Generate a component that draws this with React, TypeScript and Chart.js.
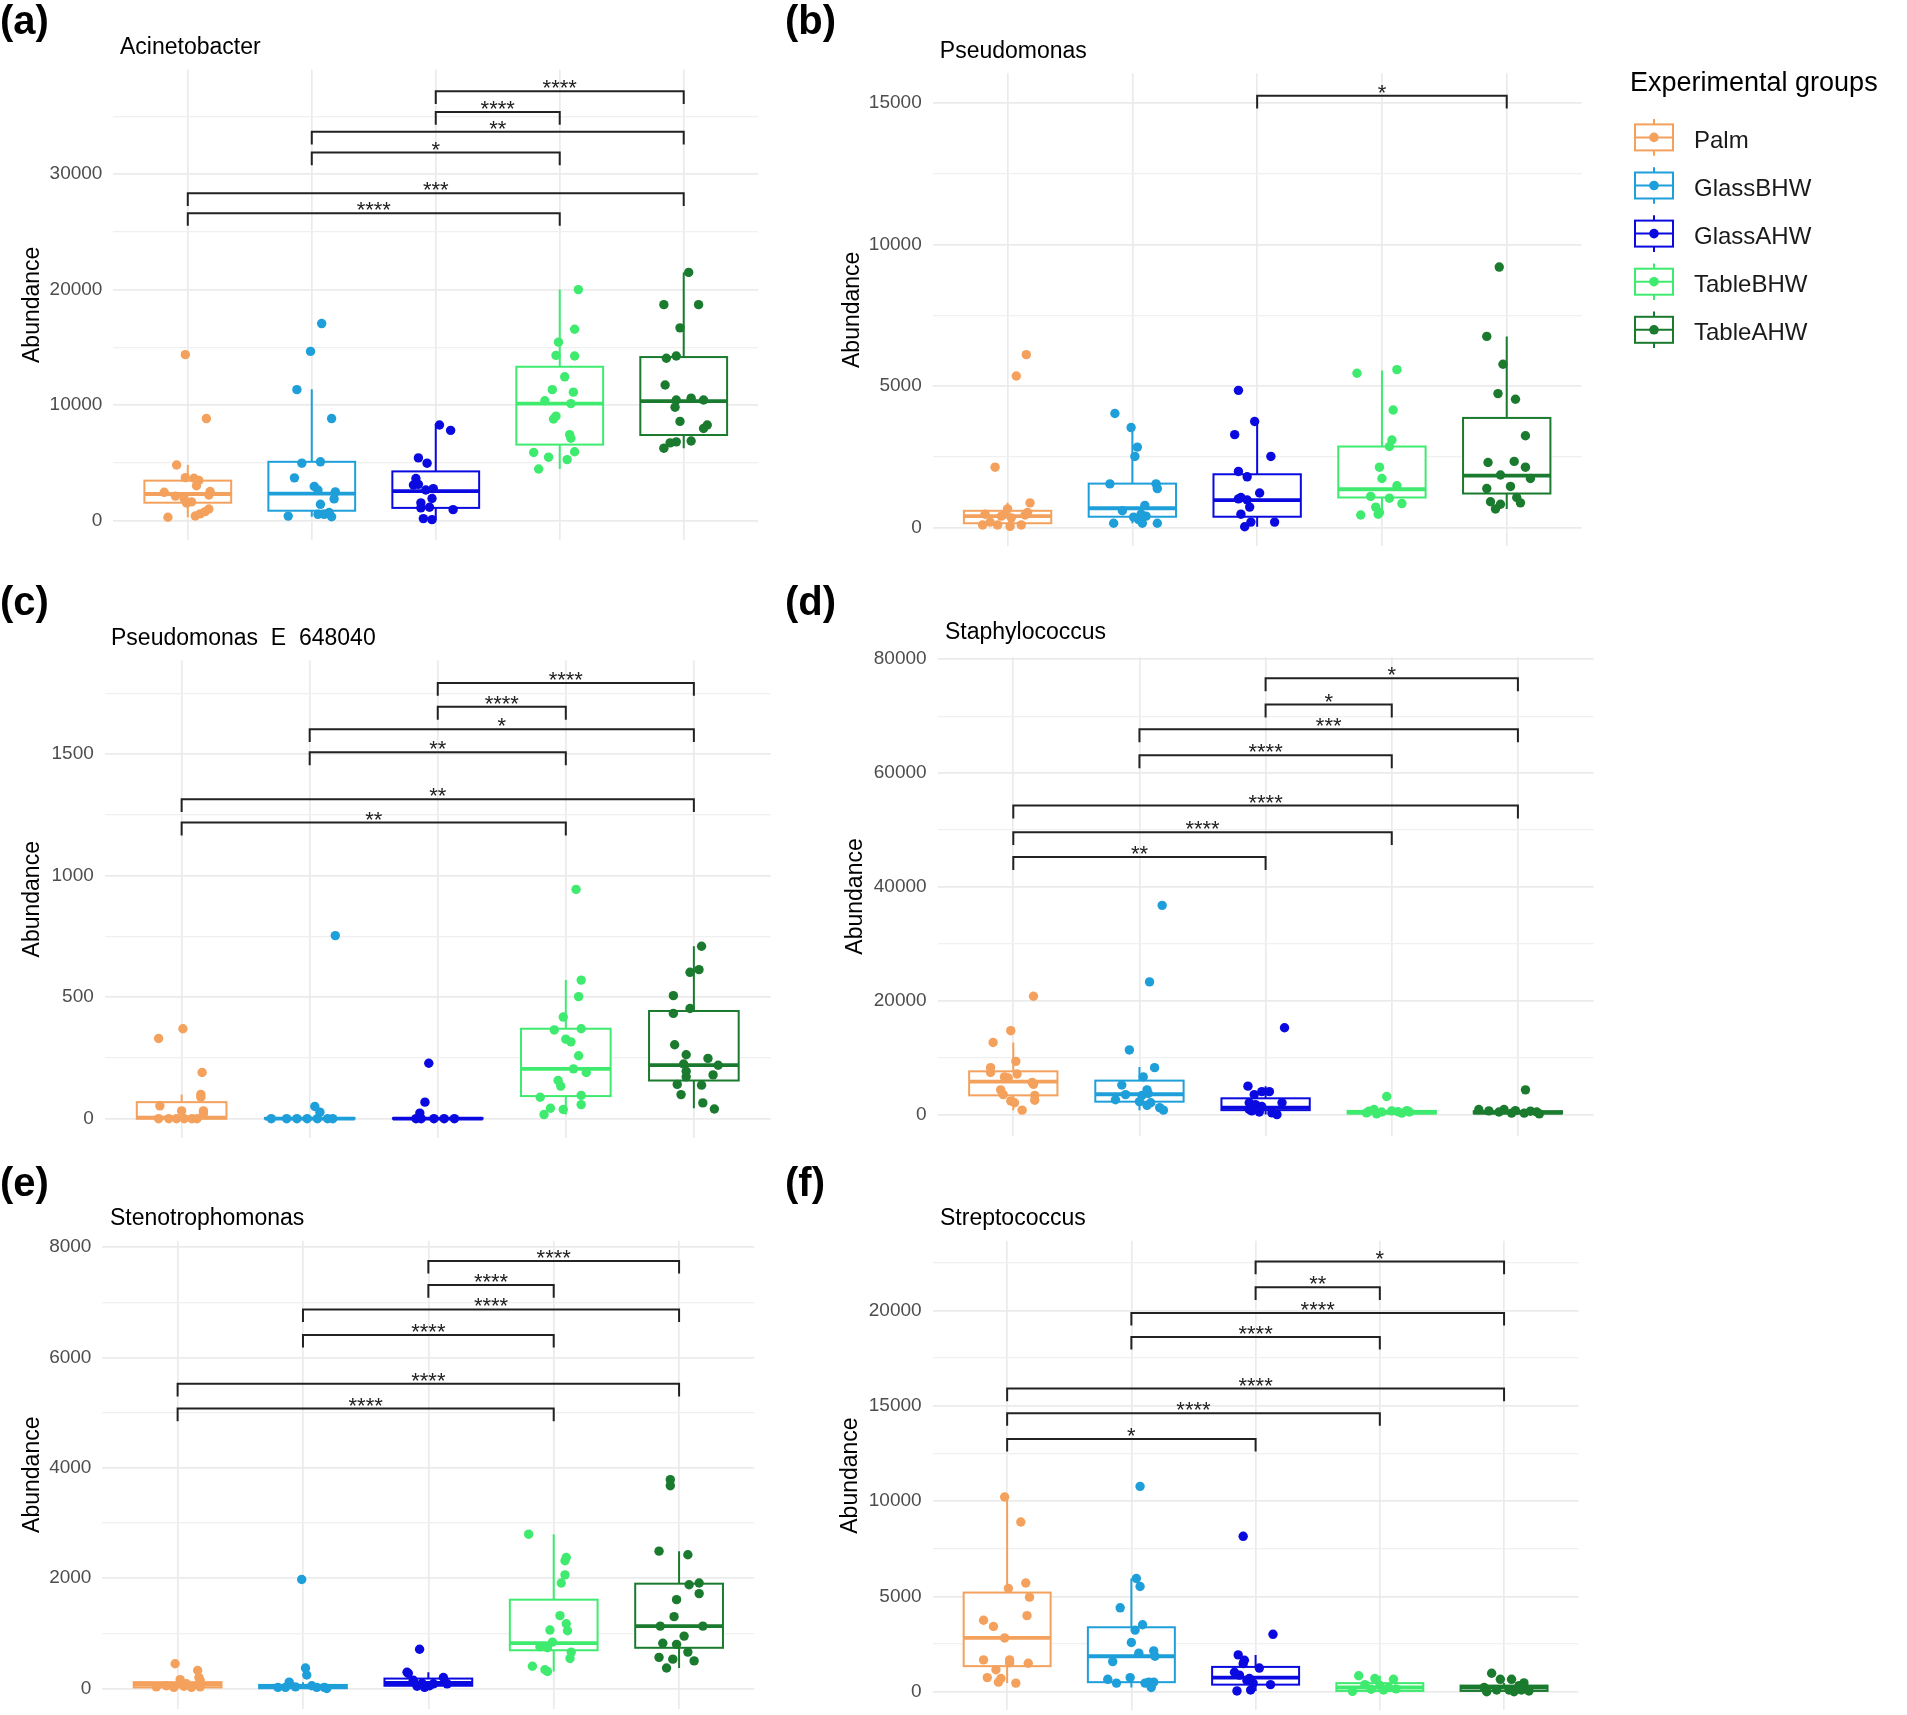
import React, { useEffect, useRef } from 'react';
import { Chart, registerables } from 'chart.js';

Chart.register(...registerables);

const FONT = '"Liberation Sans", Arial, sans-serif';
Chart.defaults.font.family = FONT;

// ---------------- data ----------------
const GROUPS = ['Palm', 'GlassBHW', 'GlassAHW', 'TableBHW', 'TableAHW'];
const GROUP_COLORS = ['#F4A15D', '#1F9FDA', '#0A0AE0', '#3EEB6F', '#1A7A2E'];

type Pt = [number, number]; // [jitter offset in category units, abundance]
type Box = [number, number, number, number, number]; // whisker low, q1, median, q3, whisker high
type Br = [number, number, number, string]; // from group, to group, bracket height, label

// (a) Acinetobacter
const acPalm: Pt[] = [[-0.02, 14350], [0.15, 8815], [-0.09, 4790], [-0.02, 3700], [0.05, 3650], [0.09, 3450], [0.07, 3000], [-0.19, 2430], [-0.1, 2100], [-0.03, 1900], [0.03, 1600], [-0.01, 1510], [0.18, 2500], [0.17, 2200], [-0.16, 270], [0.06, 380], [0.1, 560], [0.14, 760], [0.17, 980]];
const acGlassB: Pt[] = [[0.08, 17040], [-0.01, 14630], [-0.12, 11320], [0.16, 8815], [-0.08, 4950], [0.07, 5070], [-0.14, 3680], [0.02, 2940], [0.05, 2630], [0.19, 2470], [0.18, 1860], [0.07, 1390], [-0.19, 370], [0.05, 525], [0.1, 525], [0.16, 310], [0.14, 680]];
const acGlassA: Pt[] = [[0.03, 8260], [0.12, 7790], [-0.14, 5410], [-0.07, 4950], [-0.16, 3620], [-0.14, 3120], [-0.18, 3060], [-0.02, 2750], [-0.08, 2630], [-0.03, 1890], [-0.12, 1515], [-0.05, 1140], [0.14, 930], [-0.12, 1080], [-0.1, 155], [-0.03, 60]];
const acTableB: Pt[] = [[0.15, 19980], [0.12, 16550], [-0.01, 15430], [-0.03, 14290], [0.12, 14230], [0.04, 12430], [-0.06, 11320], [0.11, 11100], [-0.12, 10360], [0.09, 10110], [-0.03, 9030], [-0.05, 8780], [0.08, 7420], [0.09, 7110], [-0.21, 5880], [-0.09, 5470], [0.12, 5940], [0.06, 5260], [-0.17, 4450]];
const acTableA: Pt[] = [[0.04, 21470], [-0.16, 18680], [0.12, 18680], [-0.03, 16670], [-0.14, 14040], [-0.06, 14230], [-0.15, 11720], [-0.06, 10420], [0.06, 10580], [0.16, 10420], [-0.07, 9800], [-0.03, 8570], [0.19, 8260], [0.16, 7950], [0.06, 6870], [-0.06, 6800], [-0.11, 6710], [-0.16, 6250]];
const acBoxes: Box[] = [[270, 1530, 2285, 3440, 4800], [310, 835, 2320, 5070, 11350], [60, 1080, 2540, 4240, 8350], [4450, 6560, 10110, 13300, 19980], [6250, 7390, 10330, 14140, 21470]];
const acBrackets: Br[] = [[3, 5, 37150, '****'], [3, 4, 35350, '****'], [2, 5, 33650, '**'], [2, 4, 31850, '*'], [1, 5, 28330, '***'], [1, 4, 26600, '****']];

// (b) Pseudomonas
const psPalm: Pt[] = [[0.15, 6105], [0.07, 5350], [-0.1, 2130], [0.18, 870], [0, 655], [-0.18, 470], [-0.05, 400], [0.03, 340], [0.14, 440], [-0.2, 90], [-0.14, 190], [-0.08, 90], [0.02, 40], [0.11, 90], [-0.02, 470], [0.16, 530]];
const psGlassB: Pt[] = [[-0.14, 4025], [-0.01, 3530], [0.04, 2840], [0.02, 2510], [-0.18, 1540], [0.19, 1540], [0.2, 1375], [-0.08, 590], [0.1, 780], [0.07, 470], [0.01, 365], [0.11, 400], [0.08, 150], [-0.15, 150], [0.2, 150], [0.05, 280]];
const psGlassA: Pt[] = [[-0.15, 4845], [-0.02, 3745], [-0.18, 3280], [0.11, 2510], [-0.15, 1980], [-0.08, 1790], [-0.13, 1060], [0.02, 1220], [-0.08, 970], [-0.15, 1010], [-0.06, 720], [-0.13, 470], [-0.05, 190], [0.14, 190], [-0.1, 25]];
const psTableB: Pt[] = [[0.12, 5575], [-0.2, 5450], [0.09, 4150], [0.08, 3090], [0.06, 2860], [-0.02, 2130], [0, 1730], [0.12, 1475], [-0.09, 1100], [0.06, 1035], [0.16, 845], [-0.05, 720], [-0.02, 530], [-0.17, 440], [-0.03, 470]];
const psTableA: Pt[] = [[-0.06, 9200], [-0.16, 6750], [-0.03, 5765], [-0.07, 4730], [0.07, 4530], [0.15, 3240], [-0.15, 2295], [0.06, 2335], [0.15, 2130], [-0.05, 1855], [0.19, 1730], [-0.16, 1375], [0.03, 1450], [0.08, 1060], [-0.13, 910], [0.11, 870], [-0.05, 820], [-0.09, 655]];
const psBoxes: Box[] = [[40, 150, 400, 590, 870], [150, 380, 680, 1550, 3530], [25, 380, 970, 1880, 3745], [440, 1060, 1350, 2860, 5550], [655, 1200, 1830, 3870, 6750]];
const psBrackets: Br[] = [[3, 5, 15250, '*']];

// (c) Pseudomonas E 648040
const pePalm: Pt[] = [[0.01, 370], [-0.18, 330], [0.16, 190], [0.15, 100], [0.15, 88], [-0.17, 53], [0, 32], [0.17, 32], [0.17, 20], [-0.18, 0], [-0.1, 0], [-0.04, 0], [0.02, 0], [0.08, 0], [0.12, 0]];
const peGlassB: Pt[] = [[0.2, 753], [0.04, 50], [0.08, 27], [-0.3, 0], [-0.18, 0], [-0.1, 0], [-0.02, 0], [0.06, 0], [0.14, 0], [0.18, 0]];
const peGlassA: Pt[] = [[-0.07, 228], [-0.1, 68], [-0.14, 23], [-0.17, 0], [-0.13, 0], [-0.03, 0], [0.05, 0], [0.13, 0]];
const peTableB: Pt[] = [[0.08, 943], [0.12, 570], [0.1, 502], [-0.02, 418], [-0.09, 365], [0.12, 370], [0, 327], [0.04, 316], [0.1, 259], [0.06, 205], [0.16, 190], [-0.06, 157], [-0.04, 134], [-0.2, 88], [0.12, 96], [0.12, 58], [-0.12, 43], [-0.02, 38], [-0.17, 17]];
const peTableA: Pt[] = [[0.06, 709], [0.04, 613], [-0.03, 602], [-0.16, 506], [-0.03, 453], [-0.16, 433], [-0.15, 304], [-0.06, 263], [0.11, 248], [0.19, 220], [-0.08, 225], [-0.06, 195], [-0.06, 172], [0.15, 180], [-0.13, 141], [0.06, 138], [-0.1, 99], [0.07, 65], [0.16, 40]];
const peBoxes: Box[] = [[0, 0, 4, 68, 99], [0, 0, 0, 3, 8], [0, 0, 0, 2, 5], [17, 93, 205, 370, 570], [43, 157, 220, 443, 709]];
const peBrackets: Br[] = [[3, 5, 1792, '****'], [3, 4, 1694, '****'], [2, 5, 1602, '*'], [2, 4, 1507, '**'], [1, 5, 1314, '**'], [1, 4, 1218, '**']];

// (d) Staphylococcus
const stPalm: Pt[] = [[0.16, 20780], [-0.02, 14740], [-0.16, 12660], [0.02, 9350], [-0.18, 8250], [-0.18, 7400], [0.03, 7140], [-0.07, 6620], [-0.04, 6430], [0.15, 5650], [0.16, 5320], [-0.1, 4350], [-0.08, 3510], [0.17, 3380], [0.17, 2530], [-0.02, 2400], [0.01, 2080], [0.07, 780]];
const stGlassB: Pt[] = [[0.18, 36760], [0.08, 23310], [-0.08, 11360], [0.12, 8250], [0.03, 6620], [-0.14, 5200], [-0.11, 3510], [0.06, 4350], [0.07, 3700], [0.02, 3380], [-0.19, 2600], [0, 2270], [0.09, 2080], [0.06, 1620], [0.16, 1230], [0.19, 780]];
const stGlassA: Pt[] = [[0.15, 15260], [-0.14, 5000], [-0.03, 4030], [0.03, 4030], [-0.09, 3510], [0.13, 2080], [-0.13, 2080], [-0.08, 1750], [-0.07, 1100], [-0.03, 1430], [-0.13, 900], [-0.05, 450], [-0.11, 650], [0.09, 0], [0.05, 300]];
const stTableB: Pt[] = [[-0.04, 3180], [-0.2, 300], [-0.14, 900], [-0.08, 450], [0, 650], [0.08, 260], [0.14, 450], [-0.12, 130], [0.05, 500], [0.12, 700], [-0.18, 600]];
const stTableA: Pt[] = [[0.06, 4350], [-0.31, 900], [-0.23, 650], [-0.15, 450], [-0.05, 260], [0.05, 260], [0.15, 450], [0.17, 130], [-0.11, 900], [0.1, 600], [-0.02, 700]];
const stBoxes: Box[] = [[780, 3380, 5780, 7600, 12660], [780, 2270, 3570, 5970, 8380], [0, 780, 1230, 2860, 5000], [100, 200, 330, 650, 1000], [100, 200, 330, 600, 1000]];
const stBrackets: Br[] = [[3, 5, 76630, '*'], [3, 4, 72020, '*'], [2, 5, 67670, '***'], [2, 4, 63120, '****'], [1, 5, 54290, '****'], [1, 4, 49610, '****'], [1, 3, 45260, '**']];

// (e) Stenotrophomonas
const snPalm: Pt[] = [[-0.02, 449], [0.16, 327], [0.02, 160], [0.17, 200], [0.18, 150], [-0.17, 30], [-0.09, 50], [-0.03, 20], [0.05, 40], [0.11, 20], [0.18, 30], [0.07, 85]];
const snGlassB: Pt[] = [[-0.01, 1976], [0.02, 372], [0.03, 244], [-0.11, 115], [-0.2, 20], [-0.14, 20], [-0.06, 30], [0.07, 50], [0.11, 20], [0.17, 20], [0.19, 0]];
const snGlassA: Pt[] = [[-0.07, 712], [-0.17, 295], [-0.16, 275], [0.12, 200], [0.15, 85], [-0.12, 150], [-0.05, 95], [0.01, 50], [0.04, 85], [-0.09, 40], [-0.03, 20]];
const snTableB: Pt[] = [[-0.2, 2797], [0.1, 2374], [0.09, 2316], [0.09, 2060], [0.06, 1912], [0.05, 1321], [0.1, 1174], [0.11, 1046], [-0.03, 1059], [-0.01, 840], [-0.11, 757], [-0.05, 738], [0.14, 660], [0.13, 545], [-0.17, 404], [-0.07, 340], [-0.05, 308]];
const snTableA: Pt[] = [[-0.07, 3785], [-0.07, 3676], [-0.16, 2489], [0.07, 2425], [0.08, 1880], [0.16, 1912], [0.16, 1720], [-0.02, 1610], [-0.04, 1302], [-0.15, 1130], [0.19, 1130], [0.04, 950], [-0.13, 821], [-0.02, 800], [0.07, 660], [-0.16, 565], [-0.05, 532], [0.12, 500], [-0.1, 372]];
const snBoxes: Box[] = [[0, 20, 70, 115, 200], [0, 5, 40, 65, 115], [20, 50, 100, 180, 295], [308, 693, 821, 1610, 2797], [372, 738, 1130, 1900, 2489]];
const snBrackets: Br[] = [[3, 5, 7750, '****'], [3, 4, 7313, '****'], [2, 5, 6870, '****'], [2, 4, 6409, '****'], [1, 5, 5523, '****'], [1, 4, 5074, '****']];

// (f) Streptococcus
const spPalm: Pt[] = [[-0.02, 10210], [0.11, 8900], [0.15, 5700], [0.01, 5420], [0.18, 4960], [0.16, 3990], [-0.19, 3750], [-0.11, 3420], [-0.02, 2820], [-0.19, 1670], [0.02, 1670], [0.02, 1520], [0.17, 1490], [-0.09, 1150], [-0.16, 740], [-0.05, 690], [-0.07, 500], [0.07, 450]];
const spGlassB: Pt[] = [[0.07, 10770], [0.04, 5940], [0.07, 5520], [-0.09, 4400], [0.09, 3510], [0.03, 3230], [0, 2580], [0.06, 2020], [0.18, 2140], [0.19, 1860], [-0.15, 1580], [-0.19, 650], [-0.12, 450], [-0.01, 740], [0.14, 500], [0.16, 220], [0.11, 450], [0.18, 500]];
const spGlassA: Pt[] = [[-0.1, 8150], [0.14, 3010], [-0.14, 1930], [-0.09, 1650], [-0.1, 1470], [0.03, 1240], [-0.17, 1020], [-0.13, 870], [-0.05, 690], [-0.02, 450], [-0.07, 590], [0.12, 370], [-0.15, 40], [-0.04, 90]];
const spTableB: Pt[] = [[-0.17, 835], [-0.04, 690], [0.11, 650], [-0.12, 370], [0, 330], [0.07, 220], [0.13, 150], [-0.22, 20], [-0.07, 130], [0.03, 90]];
const spTableA: Pt[] = [[-0.1, 970], [-0.03, 650], [0.06, 650], [0.16, 460], [0.12, 320], [-0.16, 220], [-0.06, 90], [0.04, 90], [0.14, 90], [-0.14, 0], [0.08, 0], [0.2, 40]];
const spBoxes: Box[] = [[450, 1340, 2820, 5200, 10210], [220, 500, 1860, 3380, 5940], [40, 370, 740, 1300, 1930], [0, 40, 220, 450, 835], [0, 40, 220, 320, 460]];
const spBrackets: Br[] = [[3, 5, 22560, '*'], [3, 4, 21210, '**'], [2, 5, 19870, '****'], [2, 4, 18610, '****'], [1, 5, 15900, '****'], [1, 4, 14610, '****'], [1, 3, 13260, '*']];

// ---------------- panels (layout in page pixels) ----------------
interface Rect { left: number; top: number; width: number; height: number }
interface Area { left: number; right: number; top: number; bottom: number }
interface PanelSpec {
  letter: string;
  title: string;
  points: Pt[][];
  boxes: Box[];
  brackets: Br[];
  yMin: number; yMax: number; major: number; minor: number;
  canvas: Rect; area: Area;
  titleX: number; titleBase: number; letterBase: number; yTitleX: number;
  legend?: boolean;
}

const COL1 = 0, COL1W = 785, COL2 = 785, COL2W = 1122;
const ROW1 = 0, ROW1H = 570, ROW2 = 570, ROW2H = 590, ROW3 = 1160, ROW3H = 555;

const PANELS: PanelSpec[] = [
  {
    letter: 'a', title: 'Acinetobacter', points: [acPalm, acGlassB, acGlassA, acTableB, acTableA], boxes: acBoxes, brackets: acBrackets,
    yMin: -1700, yMax: 39030, major: 10000, minor: 5000,
    canvas: { left: COL1, top: ROW1, width: COL1W, height: ROW1H }, area: { left: 113.4, right: 758.1, top: 69.6, bottom: 540 },
    titleX: 120, titleBase: 54, letterBase: 33.5, yTitleX: 33,
  },
  {
    letter: 'b', title: 'Pseudomonas', points: [psPalm, psGlassB, psGlassA, psTableB, psTableA], boxes: psBoxes, brackets: psBrackets,
    yMin: -668, yMax: 16048, major: 5000, minor: 2500,
    canvas: { left: COL2, top: ROW1, width: COL2W, height: ROW1H }, area: { left: 932.7, right: 1581.6, top: 73.2, bottom: 546.4 },
    titleX: 939.8, titleBase: 58, letterBase: 33.5, yTitleX: 853, legend: true,
  },
  {
    letter: 'c', title: 'Pseudomonas  E  648040', points: [pePalm, peGlassB, peGlassA, peTableB, peTableA], boxes: peBoxes, brackets: peBrackets,
    yMin: -79, yMax: 1884, major: 500, minor: 250,
    canvas: { left: COL1, top: ROW2, width: COL1W, height: ROW2H }, area: { left: 104.8, right: 770.7, top: 660.6, bottom: 1137.9 },
    titleX: 111, titleBase: 645, letterBase: 615.2, yTitleX: 33,
  },
  {
    letter: 'd', title: 'Staphylococcus', points: [stPalm, stGlassB, stGlassA, stTableB, stTableA], boxes: stBoxes, brackets: stBrackets,
    yMin: -3760, yMax: 80400, major: 20000, minor: 10000,
    canvas: { left: COL2, top: ROW2, width: COL2W, height: ROW2H }, area: { left: 937.6, right: 1593.6, top: 656.9, bottom: 1136 },
    titleX: 945, titleBase: 639.4, letterBase: 615.2, yTitleX: 856,
  },
  {
    letter: 'e', title: 'Stenotrophomonas', points: [snPalm, snGlassB, snGlassA, snTableB, snTableA], boxes: snBoxes, brackets: snBrackets,
    yMin: -366, yMax: 8116, major: 2000, minor: 1000,
    canvas: { left: COL1, top: ROW3, width: COL1W, height: ROW3H }, area: { left: 102.4, right: 754.3, top: 1240.7, bottom: 1708.7 },
    titleX: 110, titleBase: 1224.6, letterBase: 1195.6, yTitleX: 33,
  },
  {
    letter: 'f', title: 'Streptococcus', points: [spPalm, spGlassB, spGlassA, spTableB, spTableA], boxes: spBoxes, brackets: spBrackets,
    yMin: -981, yMax: 23656, major: 5000, minor: 2500,
    canvas: { left: COL2, top: ROW3, width: COL2W, height: ROW3H }, area: { left: 932.6, right: 1578.6, top: 1240.7, bottom: 1710.4 },
    titleX: 940, titleBase: 1224.6, letterBase: 1195.6, yTitleX: 851,
  },
];

const BOX_HALF = 0.35;
const TIP_FRAC = 0.027;

function makeConfig(p: PanelSpec): any {
  const c = p.canvas, a = p.area;
  const datasets = p.points.map((pts, g) => ({
    label: GROUPS[g],
    data: pts.map(([o, v]) => ({ x: g + 1 + o, y: v })),
    backgroundColor: GROUP_COLORS[g],
    borderWidth: 0,
    pointRadius: 4.7,
    pointHoverRadius: 4.7,
  }));

  const boxPlugin = {
    id: 'boxes',
    beforeDatasetsDraw(chart: any) {
      const { ctx, scales: { x, y } } = chart;
      p.boxes.forEach((b, g) => {
        const col = GROUP_COLORS[g];
        const xc = x.getPixelForValue(g + 1);
        const xl = x.getPixelForValue(g + 1 - BOX_HALF);
        const xr = x.getPixelForValue(g + 1 + BOX_HALF);
        const [lo, q1, med, q3, hi] = b.map((v) => y.getPixelForValue(v));
        ctx.save();
        ctx.strokeStyle = col;
        ctx.lineWidth = 2;
        ctx.beginPath();
        ctx.moveTo(xc, hi); ctx.lineTo(xc, q3);
        ctx.moveTo(xc, q1); ctx.lineTo(xc, lo);
        ctx.stroke();
        ctx.fillStyle = '#ffffff';
        ctx.fillRect(xl, q3, xr - xl, q1 - q3);
        ctx.strokeRect(xl, q3, xr - xl, q1 - q3);
        ctx.lineWidth = 3.8;
        ctx.beginPath();
        ctx.moveTo(xl, med); ctx.lineTo(xr, med);
        ctx.stroke();
        ctx.restore();
      });
    },
  };

  const annotPlugin = {
    id: 'annot',
    afterDatasetsDraw(chart: any) {
      const { ctx, scales: { x, y }, chartArea } = chart;
      const tip = TIP_FRAC * (chartArea.bottom - chartArea.top);
      ctx.save();
      ctx.strokeStyle = '#222222';
      ctx.fillStyle = '#222222';
      ctx.lineWidth = 2;
      ctx.font = `22px ${FONT}`;
      ctx.textAlign = 'center';
      ctx.textBaseline = 'alphabetic';
      p.brackets.forEach(([i, j, v, label]) => {
        const yy = y.getPixelForValue(v);
        const x1 = x.getPixelForValue(i);
        const x2 = x.getPixelForValue(j);
        ctx.beginPath();
        ctx.moveTo(x1, yy + tip); ctx.lineTo(x1, yy); ctx.lineTo(x2, yy); ctx.lineTo(x2, yy + tip);
        ctx.stroke();
        ctx.fillText(label, (x1 + x2) / 2, yy + 4);
      });
      ctx.restore();
    },
    afterDraw(chart: any) {
      const { ctx } = chart;
      ctx.save();
      // panel letter
      ctx.fillStyle = '#000000';
      ctx.textAlign = 'left';
      ctx.textBaseline = 'alphabetic';
      ctx.font = `bold 40px ${FONT}`;
      ctx.fillText(`(${p.letter})`, 0, p.letterBase - c.top);
      // title
      ctx.font = `23px ${FONT}`;
      ctx.fillText(p.title, p.titleX - c.left, p.titleBase - c.top);
      // y axis title
      ctx.save();
      ctx.translate(p.yTitleX - c.left, (a.top + a.bottom) / 2 - c.top);
      ctx.rotate(-Math.PI / 2);
      ctx.textAlign = 'center';
      ctx.textBaseline = 'middle';
      ctx.font = `23px ${FONT}`;
      ctx.fillText('Abundance', 0, 0);
      ctx.restore();
      // legend
      if (p.legend) {
        ctx.font = `27px ${FONT}`;
        ctx.fillStyle = '#000000';
        ctx.fillText('Experimental groups', 1630 - c.left, 91 - c.top);
        GROUPS.forEach((gname, g) => {
          const base = 148 + g * 48.1 - c.top;
          const cy = base - 10.6;
          const cx = 1654 - c.left;
          const col = GROUP_COLORS[g];
          ctx.strokeStyle = col;
          ctx.lineWidth = 2;
          ctx.beginPath();
          ctx.moveTo(cx, cy - 18.3); ctx.lineTo(cx, cy + 18.3);
          ctx.stroke();
          ctx.fillStyle = '#ffffff';
          ctx.fillRect(cx - 19, cy - 13, 38, 26);
          ctx.strokeRect(cx - 19, cy - 13, 38, 26);
          ctx.beginPath();
          ctx.moveTo(cx - 19, cy); ctx.lineTo(cx + 19, cy);
          ctx.stroke();
          ctx.fillStyle = col;
          ctx.beginPath();
          ctx.arc(cx, cy, 4.8, 0, Math.PI * 2);
          ctx.fill();
          ctx.fillStyle = '#1a1a1a';
          ctx.font = `24px ${FONT}`;
          ctx.fillText(gname, 1694 - c.left, base);
        });
      }
      ctx.restore();
    },
  };

  const noPad = (s: any) => {
    s.paddingTop = 0; s.paddingBottom = 0; s.paddingLeft = 0; s.paddingRight = 0;
  };

  return {
    type: 'scatter',
    data: { datasets },
    options: {
      animation: false,
      responsive: false,
      events: [],
      layout: {
        autoPadding: false,
        padding: {
          left: 0,
          top: a.top - c.top,
          right: c.left + c.width - a.right,
          bottom: c.top + c.height - a.bottom,
        },
      },
      plugins: { legend: { display: false }, tooltip: { enabled: false }, title: { display: false } },
      scales: {
        x: {
          type: 'linear',
          min: 0.4,
          max: 5.6,
          afterBuildTicks: (s: any) => { s.ticks = [1, 2, 3, 4, 5].map((v) => ({ value: v })); },
          afterFit: (s: any) => { s.height = 0; noPad(s); },
          ticks: { display: false },
          grid: { color: '#EBEBEB', lineWidth: 1.7, drawTicks: false },
          border: { display: false },
        },
        y: {
          type: 'linear',
          min: p.yMin,
          max: p.yMax,
          afterBuildTicks: (s: any) => {
            const t: any[] = [];
            for (let v = 0; v <= p.yMax; v += p.minor) t.push({ value: v });
            s.ticks = t;
          },
          afterFit: (s: any) => { s.width = a.left - c.left; noPad(s); },
          ticks: {
            padding: 11,
            color: '#4D4D4D',
            autoSkip: false,
            font: { family: FONT, size: 19 },
            callback: (v: any) => (Number(v) % p.major === 0 ? String(v) : ''),
          },
          grid: {
            drawTicks: false,
            color: (ctx: any) => (ctx.tick && ctx.tick.value % p.major === 0 ? '#EBEBEB' : '#F0F0F0'),
            lineWidth: (ctx: any) => (ctx.tick && ctx.tick.value % p.major === 0 ? 1.7 : 1.2),
          },
          border: { display: false },
        },
      },
    },
    plugins: [boxPlugin, annotPlugin],
  };
}

function Panel({ spec }: { spec: PanelSpec }) {
  const ref = useRef<HTMLCanvasElement | null>(null);
  useEffect(() => {
    if (!ref.current) return;
    const chart = new Chart(ref.current, makeConfig(spec));
    return () => chart.destroy();
  }, [spec]);
  const c = spec.canvas;
  return (
    <canvas
      ref={ref}
      width={c.width}
      height={c.height}
      style={{ position: 'absolute', left: c.left, top: c.top, width: c.width, height: c.height, display: 'block' }}
    />
  );
}

export default function App() {
  return (
    <div style={{ position: 'absolute', left: 0, top: 0, width: 1907, height: 1715, background: '#ffffff', overflow: 'hidden' }}>
      {PANELS.map((p) => (
        <Panel key={p.letter} spec={p} />
      ))}
    </div>
  );
}
